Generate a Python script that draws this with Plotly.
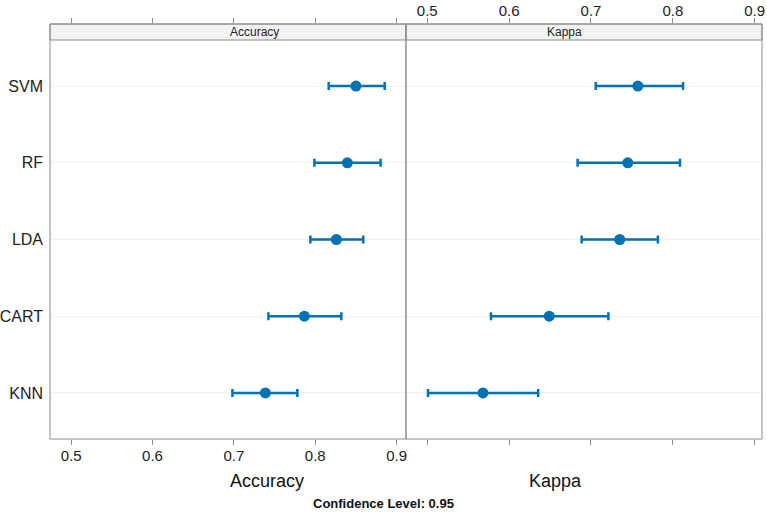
import plotly.graph_objects as go

models = ["KNN", "CART", "LDA", "RF", "SVM"]
acc_mean = [0.7387, 0.7866, 0.826, 0.8394, 0.850]
acc_low = [0.6982, 0.7424, 0.794, 0.7989, 0.8165]
acc_high = [0.778, 0.832, 0.859, 0.8803, 0.8853]
kap_mean = [0.568, 0.649, 0.7352, 0.745, 0.7573]
kap_low = [0.5009, 0.5778, 0.6886, 0.6837, 0.7058]
kap_high = [0.6355, 0.7213, 0.7818, 0.8088, 0.8125]
tick_vals = [0.5, 0.6, 0.7, 0.8, 0.9]
tick_text = ["0.5", "0.6", "0.7", "0.8", "0.9"]

BLUE = "#0072B2"
FRAME = "#8C8C8C"
FONT = "Liberation Sans, Arial, sans-serif"

ypos = list(range(1, len(models) + 1))

W, H = 767, 512
L, R, T, B = 50, 5, 24, 73
plot_h = H - T - B
strip_h = 16
data_h = plot_h - strip_h
yr0, yr1 = 0.4, len(models) + 0.6
per = data_h / (yr1 - yr0)
ytop = yr1 + strip_h / per
strip_frac = data_h / plot_h

acc_range = [0.474, 0.9115]
kap_range = [0.474, 0.909]


def err(mean, low, high):
    return dict(type="data", symmetric=False,
                array=[h - m for h, m in zip(high, mean)],
                arrayminus=[m - l for m, l in zip(mean, low)],
                color=BLUE, thickness=2.5, width=4)


fig = go.Figure()
fig.add_trace(go.Scatter(x=acc_mean, y=ypos, mode="markers", xaxis="x", yaxis="y",
                         marker=dict(color=BLUE, size=11),
                         error_x=err(acc_mean, acc_low, acc_high), showlegend=False))
fig.add_trace(go.Scatter(x=kap_mean, y=ypos, mode="markers", xaxis="x2", yaxis="y",
                         marker=dict(color=BLUE, size=11),
                         error_x=err(kap_mean, kap_low, kap_high), showlegend=False))
# invisible traces for overlay axes
fig.add_trace(go.Scatter(x=[None], y=[None], xaxis="x3", yaxis="y", showlegend=False, hoverinfo="skip"))
fig.add_trace(go.Scatter(x=[None], y=[None], xaxis="x4", yaxis="y", showlegend=False, hoverinfo="skip"))

tickfont = dict(family=FONT, size=15, color="#222222")
common = dict(showgrid=False, zeroline=False, tickvals=tick_vals, ticktext=tick_text,
              ticks="outside", tickcolor=FRAME, tickfont=tickfont, showline=False,
              automargin=False, ticklabeloverflow="allow", ticklen=5)

fig.update_layout(
    width=W, height=H,
    margin=dict(l=L, r=R, t=T, b=B, autoexpand=False),
    paper_bgcolor="white", plot_bgcolor="white",
    xaxis=dict(domain=[0, 0.5], range=acc_range, side="bottom", anchor="y",
               ticklabelstandoff=-2, **common),
    xaxis3=dict(range=acc_range, overlaying="x", side="top", anchor="y",
                showticklabels=False, **common),
    xaxis2=dict(domain=[0.5, 1], range=kap_range, side="top", anchor="y",
                ticklabelstandoff=-4, **common),
    xaxis4=dict(range=kap_range, overlaying="x2", side="bottom", anchor="y",
                showticklabels=False, **common),
    yaxis=dict(range=[yr0, ytop], tickvals=ypos, ticktext=models, showgrid=True,
               gridcolor="#F2F2F2", gridwidth=1, zeroline=False, ticks="", showline=False,
               automargin=False,
               tickfont=dict(family=FONT, size=16, color="#222222"), ticklabelstandoff=6),
)

shapes = []
for x0, x1 in [(0, 0.5), (0.5, 1)]:
    # strip
    shapes.append(dict(type="rect", xref="paper", yref="paper", x0=x0, x1=x1,
                       y0=strip_frac, y1=1, fillcolor="#F2F2F2",
                       line=dict(color=FRAME, width=1), layer="below"))
    # panel frame
    shapes.append(dict(type="rect", xref="paper", yref="paper", x0=x0, x1=x1,
                       y0=0, y1=1, line=dict(color=FRAME, width=1), layer="above"))
fig.update_layout(shapes=shapes)

strip_y = (strip_frac + 1) / 2
annots = [
    dict(text="Accuracy", x=0.25, y=strip_y, xref="paper", yref="paper", showarrow=False,
         font=dict(family=FONT, size=12, color="#222222"), yanchor="middle"),
    dict(text="Kappa", x=0.75, y=strip_y, xref="paper", yref="paper", showarrow=False,
         font=dict(family=FONT, size=12, color="#222222"), yanchor="middle"),
    dict(text="Accuracy", x=0.25, y=-(481 - (H - B)) / plot_h, xref="paper", yref="paper",
         showarrow=False, font=dict(family=FONT, size=18, color="#111111"), yanchor="middle"),
    dict(text="Kappa", x=0.75, y=-(481 - (H - B)) / plot_h, xref="paper", yref="paper",
         showarrow=False, font=dict(family=FONT, size=18, color="#111111"), yanchor="middle"),
    dict(text="<b>Confidence Level: 0.95</b>", x=(W / 2 - L) / (W - L - R),
         y=-(503 - (H - B)) / plot_h, xref="paper", yref="paper", showarrow=False,
         font=dict(family=FONT, size=13, color="#111111"), yanchor="middle"),
]
fig.update_layout(annotations=annots)

fig.write_html("out.html")
